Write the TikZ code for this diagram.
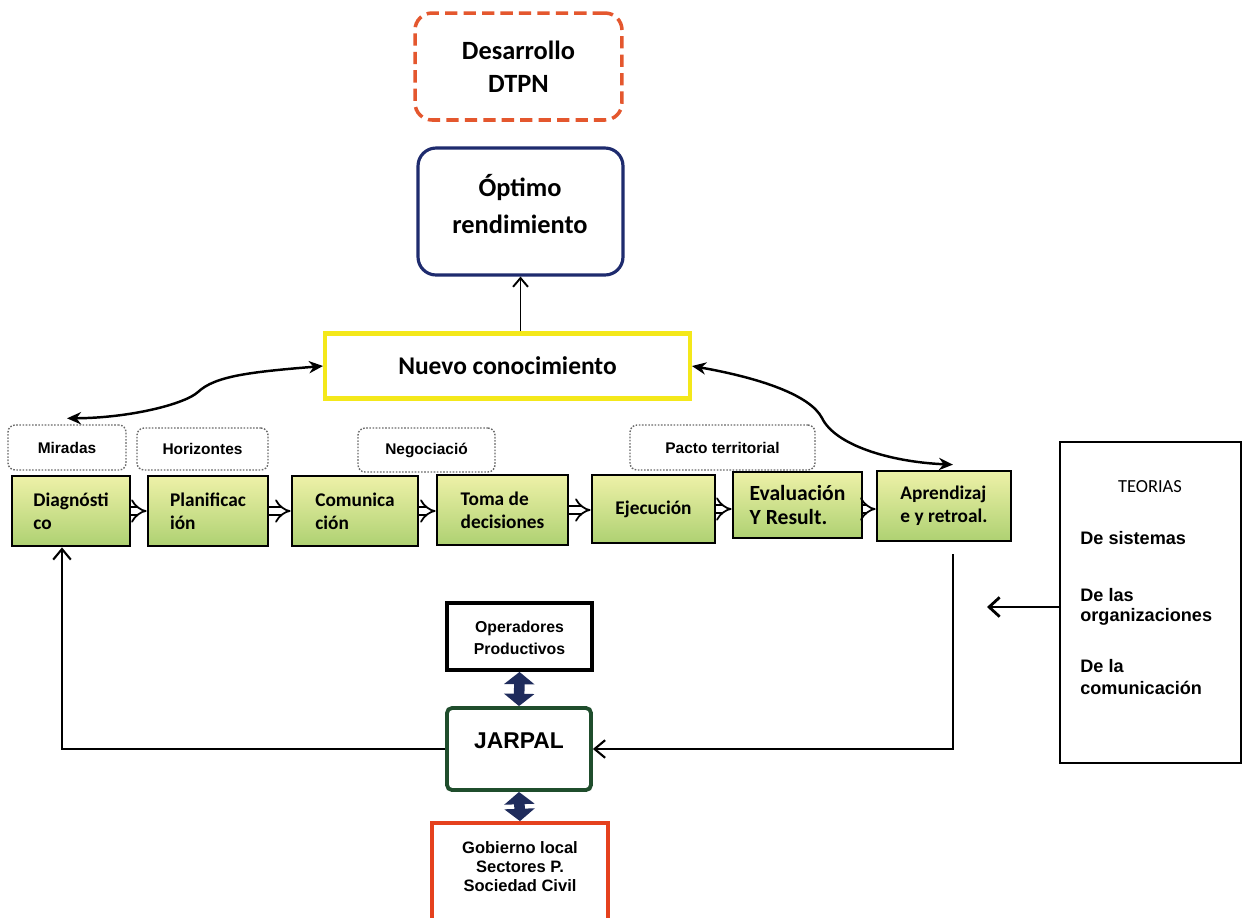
\documentclass[tikz,border=0pt]{standalone}
\usepackage{fontspec}
\setmainfont{Carlito}
\newfontfamily\calfont{Carlito}
\newfontfamily\arfont{Liberation Sans}
\usetikzlibrary{arrows.meta,calc}
\definecolor{dashred}{HTML}{E4572E}
\definecolor{navyb}{HTML}{1E2B6E}
\definecolor{yelb}{HTML}{F4E81A}
\definecolor{jgreen}{HTML}{1F4D2C}
\definecolor{gred}{HTML}{E5411D}
\definecolor{dotgray}{HTML}{6A6A6A}
\definecolor{gtop}{HTML}{EEF1A8}
\definecolor{gbot}{HTML}{AED172}
\definecolor{thickblue}{HTML}{1F2C5C}
\begin{document}
\begin{tikzpicture}[x=0.02cm,y=-0.02cm,
  dashbox/.style={draw=dashred, line width=2pt, dash pattern=on 7pt off 3.5pt, rounded corners=0.34cm, align=center, font=\calfont\bfseries\fontsize{15}{18.7}\selectfont},
  optbox/.style={draw=navyb, line width=1.8pt, rounded corners=0.36cm},
  nubox/.style={draw=yelb, line width=2.3pt, font=\calfont\bfseries\fontsize{14.5}{17}\selectfont},
  lblbox/.style={draw=dotgray, line width=0.8pt, dash pattern=on 0.9pt off 0.9pt, rounded corners=0.14cm, font=\arfont\bfseries\fontsize{8.8}{10.5}\selectfont},
  proc/.style={draw=black, line width=1.6pt, top color=gtop, bottom color=gbot, align=left, inner sep=0pt, font=\calfont\bfseries\fontsize{11}{13}\selectfont},
  flow/.style={line width=1pt, double distance=3.6pt, -{Implies}},
  openarr/.style={line width=1.1pt, -{Straight Barb[length=5pt,width=8.5pt]}},
  fbarr/.style={line width=1.2pt, -{Straight Barb[length=6pt,width=10pt]}},
  dbl/.style={draw=thickblue, line width=6pt, {Triangle[length=7pt,width=17pt]}-{Triangle[length=7pt,width=17pt]}},
  curvearr/.style={line width=1.4pt, {Stealth[length=8pt,width=7pt]}-{Stealth[length=8pt,width=7pt]}},
  plainbox/.style={draw=black, line width=2.2pt},
  smalltxt/.style={font=\arfont\bfseries\fontsize{9}{12.5}\selectfont, align=center, inner sep=0pt},
  teotxt/.style={font=\arfont\bfseries\fontsize{10.3}{12}\selectfont, align=left, inner sep=0pt, anchor=west}
]
\fill[white] (0,0) rectangle (1243,917);
\useasboundingbox (0,0) rectangle (1243,917);

% top boxes
\node[dashbox, minimum width=4.14cm, minimum height=2.14cm] (des) at (518.5,66.5) {Desarrollo\\DTPN};
\node[optbox, minimum width=4.1cm, minimum height=2.54cm] (opt) at (520.5,211.5) {};
\node[font=\calfont\bfseries\fontsize{15}{21}\selectfont, align=center, inner sep=0pt] (optt) at (520,204) {Óptimo\\rendimiento};
\node[nubox, minimum width=7.3cm, minimum height=1.3cm] (nuevo) at (507.5,366) {Nuevo conocimiento};

% dotted label boxes
\node[lblbox, minimum width=2.36cm, minimum height=0.9cm] (mir) at (67,447.5) {Miradas};
\node[lblbox, minimum width=2.62cm, minimum height=0.84cm] (hor) at (202.5,449) {Horizontes};
\node[lblbox, minimum width=2.74cm, minimum height=0.88cm] (neg) at (426.5,450) {Negociació};
\node[lblbox, minimum width=3.7cm, minimum height=0.9cm] (pac) at (722.5,447.5) {Pacto territorial};

% process boxes
\node[proc, minimum width=2.36cm, minimum height=1.4cm] (diag) at (71,511) {Diagnósti\\co};
\node[proc, minimum width=2.4cm, minimum height=1.4cm] (plan) at (208,511) {Planificac\\ión};
\node[proc, minimum width=2.52cm, minimum height=1.4cm] (comu) at (355,511) {Comunica\\ción};
\node[proc, minimum width=2.62cm, minimum height=1.4cm] (toma) at (502.5,510) {Toma de\\decisiones};
\node[proc, minimum width=2.46cm, minimum height=1.36cm] (ejec) at (653.5,509) {Ejecución};
\node[proc, minimum width=2.58cm, minimum height=1.32cm, font=\calfont\bfseries\fontsize{12.3}{14}\selectfont] (eval) at (797.5,505) {Evaluación\\Y Result.};
\node[proc, minimum width=2.68cm, minimum height=1.4cm] (apre) at (944,506) {Aprendizaj\\e y retroal.};

% process flow arrows
\draw[flow] (diag.east) -- (diag.east -| plan.west);
\draw[flow] (plan.east) -- (plan.east -| comu.west);
\draw[flow] (comu.east) -- (comu.east -| toma.west);
\draw[flow] (toma.east) -- (toma.east -| ejec.west);
\draw[flow] (ejec.east) -- (ejec.east -| eval.west);
\draw[flow] ([yshift=-0.08cm]eval.east) -- ([yshift=-0.08cm]eval.east -| apre.west);

% top arrows
\draw[openarr] (opt.south |- nuevo.north) -- (opt.south);
\coordinate (mtop) at ($(mir.north)+(0,-6)$);
\draw[curvearr] (mtop) .. controls (130,418) and (185,404) .. (198,392) .. controls (215,376) and (250,372) .. (nuevo.west);
\coordinate (atop) at ($(apre.north)+(9,-5)$);
\draw[curvearr] (nuevo.east) .. controls (760,378) and (810,395) .. (822,418) .. controls (835,445) and (890,462) .. (atop);

% bottom actors
\node[plainbox, minimum width=2.9cm, minimum height=1.34cm] (oper) at (519.5,636.5) {};
\node[smalltxt] (opert) at (519.5,638) {Operadores\\Productivos};
\node[draw=jgreen, line width=2.2pt, rounded corners=0.1cm, minimum width=2.88cm, minimum height=1.64cm] (jarpal) at (519,749) {};
\node[font=\arfont\bfseries\fontsize{13}{16}\selectfont, inner sep=0pt] (jarpalt) at (519,741) {JARPAL};
\node[draw=gred, line width=2.2pt, minimum width=3.52cm, minimum height=2.0cm] (gob) at (520,873) {};
\node[smalltxt, font=\arfont\bfseries\fontsize{9.4}{10.8}\selectfont] (gobt) at (520,867) {Gobierno local\\Sectores P.\\Sociedad Civil};

\draw[dbl] (oper.south) -- (jarpal.north);
\draw[dbl] (jarpal.south) -- (gob.north);

% feedback loop
\coordinate (fbtop) at ($(apre.south)+(9,12)$);
\draw[fbarr] (fbtop) |- (jarpal.east);
\draw[fbarr] (jarpal.west) -| ($(diag.south)+(-9,0)$);

% teorias
\node[draw=black, line width=1.4pt, minimum width=3.62cm, minimum height=6.42cm] (teo) at (1150.5,602.5) {};
\node[font=\calfont\fontsize{10.5}{12}\selectfont, inner sep=0pt] (teot) at (1150,487) {TEORIAS};
\node[teotxt] (t1) at (1080,538) {De sistemas};
\node[teotxt, font=\arfont\bfseries\fontsize{10.3}{11.5}\selectfont] (t2) at (1080,607) {De las\\organizaciones};
\node[teotxt, font=\arfont\bfseries\fontsize{10.3}{12.5}\selectfont] (t3) at (1080,677) {De la\\comunicación};
\coordinate (teoarr) at (987,607);
\draw[line width=1.6pt, -{Straight Barb[length=6pt,width=11pt]}] (teo.west |- teoarr) -- (teoarr);
\end{tikzpicture}
\end{document}
